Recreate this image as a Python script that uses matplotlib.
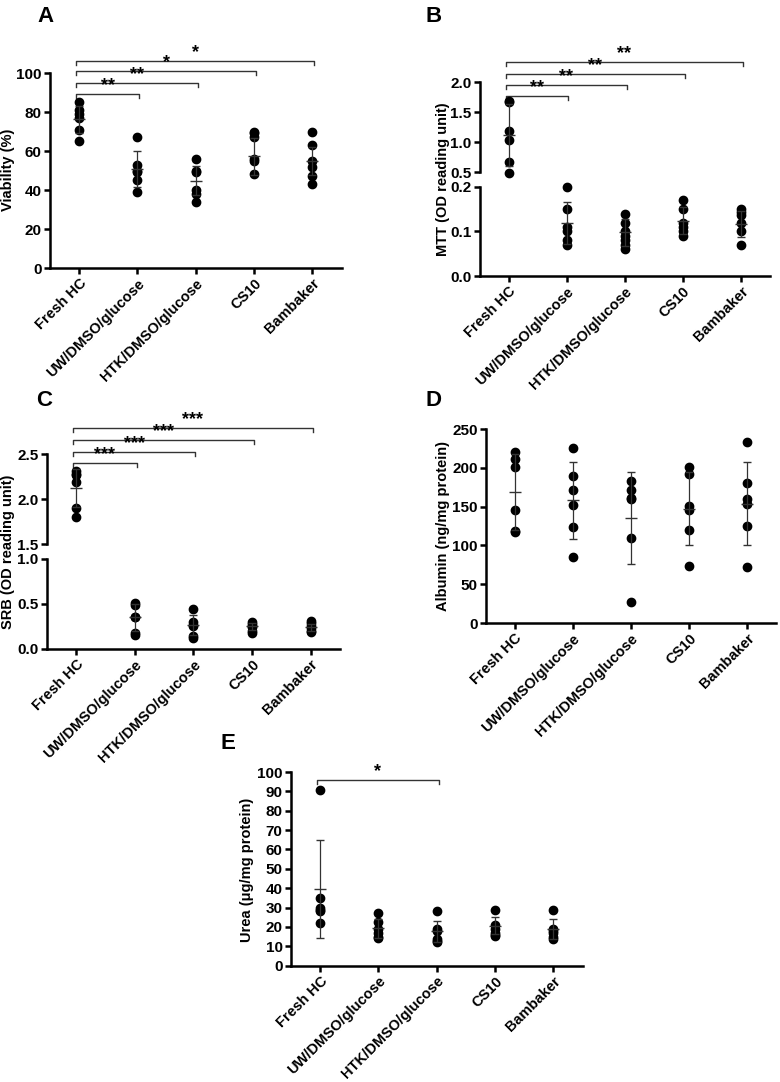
import matplotlib
matplotlib.use("Agg")
import matplotlib.pyplot as plt
from matplotlib.ticker import FormatStrFormatter

plt.rcParams['font.family'] = ['Liberation Sans', 'DejaVu Sans']
plt.rcParams['font.weight'] = 'bold'
plt.rcParams['font.size'] = 11

groups = ["Fresh HC", "UW/DMSO/glucose", "HTK/DMSO/glucose", "CS10", "Bambaker"]

# A - viability
via_pts = [[85, 81, 79, 77, 71, 65], [67, 53, 50, 49, 45, 39], [56, 50, 49, 40, 38, 34],
           [70, 69, 67, 56, 55, 48], [70, 63, 55, 52, 47, 43]]
via_mean = [76.3, 50.6, 44.7, 57.3, 54.9]
via_sd = [6.9, 9.3, 7.5, 9.5, 7.0]
via_sig = ["**", "**", "*", "*"]
via_sig_y = [89, 95, 101, 106]

# B - MTT
mtt_pts = [[1.69, 1.67, 1.19, 1.03, 0.67, 0.49], [0.20, 0.15, 0.11, 0.10, 0.08, 0.07],
           [0.14, 0.12, 0.10, 0.09, 0.08, 0.07, 0.06], [0.17, 0.15, 0.12, 0.11, 0.10, 0.09],
           [0.15, 0.144, 0.137, 0.12, 0.10, 0.07]]
mtt_mean = [1.12, 0.119, 0.098, 0.124, 0.117]
mtt_sd = [0.52, 0.048, 0.03, 0.03, 0.03]
mtt_sig = ["**", "**", "**", "**"]
mtt_sig_y = [1.77, 1.95, 2.13, 2.33]

# C - SRB
srb_pts = [[2.31, 2.28, 2.27, 2.19, 1.90, 1.80], [0.51, 0.49, 0.36, 0.35, 0.18, 0.16],
           [0.44, 0.30, 0.27, 0.25, 0.14, 0.12], [0.30, 0.28, 0.26, 0.24, 0.20, 0.18],
           [0.31, 0.29, 0.25, 0.23, 0.20, 0.19]]
srb_mean = [2.12, 0.35, 0.27, 0.25, 0.24]
srb_sd = [0.21, 0.15, 0.11, 0.04, 0.04]
srb_sig = ["***", "***", "***", "***"]
srb_sig_y = [2.40, 2.52, 2.66, 2.79]

# D - albumin
alb_pts = [[221, 212, 201, 146, 119, 117], [225, 190, 172, 152, 124, 85],
           [183, 171, 161, 160, 110, 27], [201, 192, 151, 146, 120, 74],
           [233, 180, 160, 154, 125, 72]]
alb_mean = [169, 158, 135, 147, 154]
alb_sd = [49, 50, 59, 47, 54]

# E - urea
urea_pts = [[90.5, 35, 30, 29, 28, 22], [27, 22.5, 19, 17, 15, 14.5], [28, 19, 18, 14, 13, 12],
            [29, 21, 19, 17, 16, 15.5], [29, 19, 18, 17, 15, 14]]
urea_mean = [39.5, 19.2, 17.7, 20.6, 18.9]
urea_sd = [25.3, 4.8, 5.6, 4.3, 5.3]
urea_sig = ["*"]
urea_sig_x = [2]
urea_sig_y = [96]

fig = plt.figure(figsize=(7.8, 10.82), dpi=100)


def style(ax, bottom=True):
    ax.spines['top'].set_visible(False)
    ax.spines['right'].set_visible(False)
    ax.spines['left'].set_linewidth(1.8)
    ax.spines['bottom'].set_linewidth(1.8)
    ax.tick_params(width=1.8, length=4, labelsize=11, pad=2)
    ax.set_xlim(-0.5, 4.5)
    ax.set_xticks(range(len(groups)))
    if bottom:
        ax.set_xticklabels(groups, rotation=45, ha='right', rotation_mode='anchor', fontsize=10.5)
    else:
        ax.spines['bottom'].set_visible(False)
        ax.set_xticks([])


def dots(ax, pts, mean, sd, lo, hi):
    for i, vals in enumerate(pts):
        v = [y for y in vals if lo <= y <= hi]
        ax.scatter([i] * len(v), v, s=36, color='black', zorder=3, clip_on=False)
    ax.errorbar(range(len(mean)), mean, yerr=sd, fmt='_', color='#333', ms=9, mew=1,
                elinewidth=0.9, capsize=3, capthick=0.9, zorder=4)


def brackets(ax, idx, ys, labels, drop):
    for i, y, lab in zip(idx, ys, labels):
        ax.plot([-0.05, -0.05, i + 0.03, i + 0.03], [y - drop, y, y, y - drop],
                color='#333', lw=1, clip_on=False)
        ax.text((i - 0.02) / 2, y, lab, ha='center', va='bottom', fontsize=13, clip_on=False)


# Panel A
axA = fig.add_axes([0.064, 0.7523, 0.374, 0.1802])
style(axA)
dots(axA, via_pts, via_mean, via_sd, 0, 100)
axA.set_ylim(0, 100)
axA.set_yticks(range(0, 101, 20))
brackets(axA, [1, 2, 3, 4], via_sig_y, via_sig, 2)

# Panel B (broken axis)
axBt = fig.add_axes([0.615, 0.841, 0.372, 0.0832])
axBb = fig.add_axes([0.615, 0.7449, 0.372, 0.0823])
style(axBt, bottom=False)
style(axBb)
dots(axBt, mtt_pts, mtt_mean, mtt_sd, 0.45, 2.0)
dots(axBb, mtt_pts, mtt_mean, mtt_sd, 0, 0.2)
axBt.set_ylim(0.5, 2.0)
axBt.set_yticks([0.5, 1.0, 1.5, 2.0])
axBb.set_ylim(0, 0.2)
axBb.set_yticks([0.0, 0.1, 0.2])
axBt.yaxis.set_major_formatter(FormatStrFormatter('%.1f'))
axBb.yaxis.set_major_formatter(FormatStrFormatter('%.1f'))
brackets(axBt, [1, 2, 3, 4], mtt_sig_y, mtt_sig, 0.067)

# Panel C (broken axis)
axCt = fig.add_axes([0.060, 0.4972, 0.376, 0.0832])
axCb = fig.add_axes([0.060, 0.4002, 0.376, 0.0832])
style(axCt, bottom=False)
style(axCb)
dots(axCt, srb_pts, srb_mean, srb_sd, 1.5, 2.5)
dots(axCb, srb_pts, srb_mean, srb_sd, 0, 1.0)
axCt.set_ylim(1.5, 2.5)
axCt.set_yticks([1.5, 2.0, 2.5])
axCb.set_ylim(0, 1.0)
axCb.set_yticks([0.0, 0.5, 1.0])
axCt.yaxis.set_major_formatter(FormatStrFormatter('%.1f'))
axCb.yaxis.set_major_formatter(FormatStrFormatter('%.1f'))
brackets(axCt, [1, 2, 3, 4], srb_sig_y, srb_sig, 0.044)

# Panel D
axD = fig.add_axes([0.623, 0.4242, 0.372, 0.1793])
style(axD)
dots(axD, alb_pts, alb_mean, alb_sd, 0, 250)
axD.set_ylim(0, 250)
axD.set_yticks(range(0, 251, 50))

# Panel E
axE = fig.add_axes([0.373, 0.1075, 0.374, 0.1790])
style(axE)
dots(axE, urea_pts, urea_mean, urea_sd, 0, 100)
axE.set_ylim(0, 100)
axE.set_yticks(range(0, 101, 10))
brackets(axE, urea_sig_x, urea_sig_y, urea_sig, 2)

# axis titles
fig.text(0.0103, 0.843, "Viability (%)", rotation=90, ha='center', va='center', fontsize=10.5)
fig.text(0.568, 0.8346, "MTT (OD reading unit)", rotation=90, ha='center', va='center', fontsize=10.5)
fig.text(0.0103, 0.4903, "SRB (OD reading unit)", rotation=90, ha='center', va='center', fontsize=10.5)
fig.text(0.568, 0.5139, "Albumin (ng/mg protein)", rotation=90, ha='center', va='center', fontsize=10.5)
fig.text(0.3167, 0.196, "Urea (μg/mg protein)", rotation=90, ha='center', va='center', fontsize=10.5)

# panel letters
for lab, x, y in [("A", 0.0577, 0.9843), ("B", 0.5564, 0.9843), ("C", 0.0564, 0.6294),
                  ("D", 0.5564, 0.6303), ("E", 0.2923, 0.3133)]:
    fig.text(x, y, lab, ha='center', va='center', fontsize=16, fontweight='bold')

fig.savefig("out.png", dpi=100)
